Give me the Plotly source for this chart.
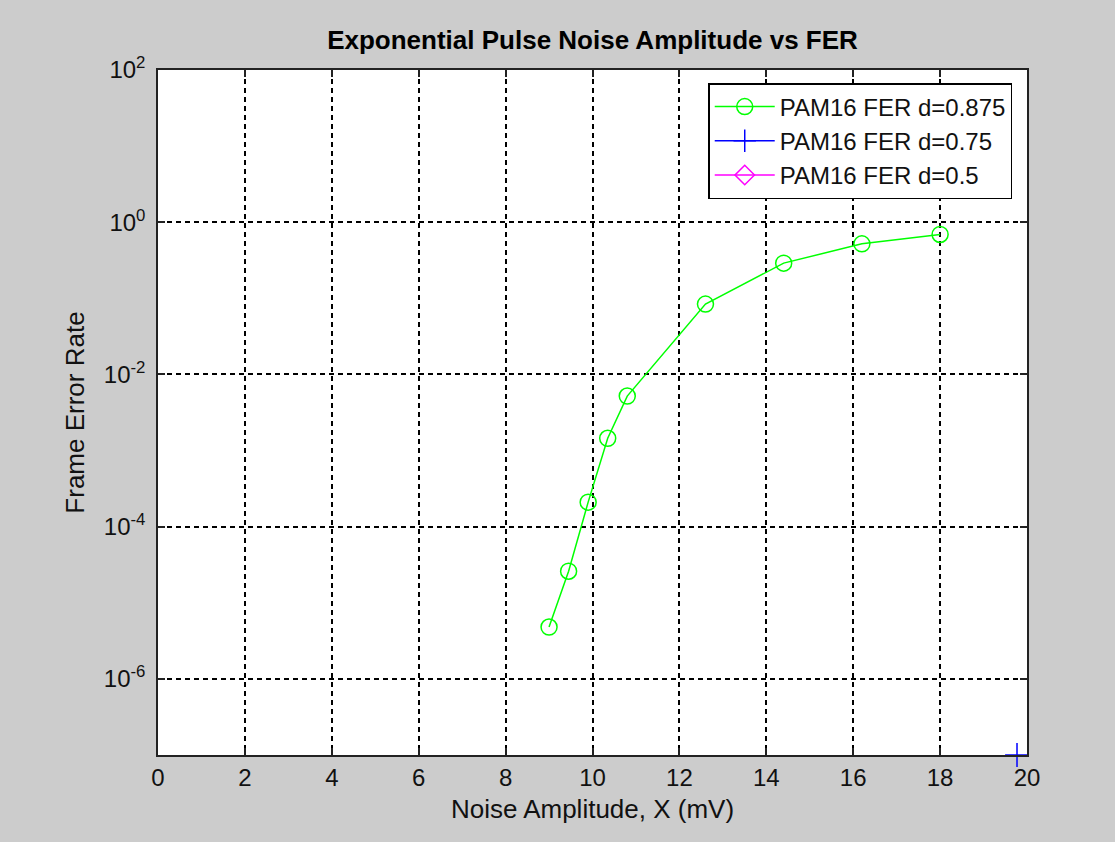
import plotly.graph_objects as go

# Data
noise_amp_875 = [9.0, 9.45, 9.9, 10.35, 10.8, 12.6, 14.4, 16.2, 18.0]
fer_875 = [4.8e-6, 2.6e-5, 2.1e-4, 1.45e-3, 5.2e-3, 0.084, 0.29, 0.52, 0.69]
noise_amp_75 = [19.77]
fer_75 = [1e-7]
noise_amp_5 = [19.77]
fer_5 = [0.0]  # non-positive: not drawable on the log axis

x_ticks = [0, 2, 4, 6, 8, 10, 12, 14, 16, 18, 20]
y_ticks = [1e-6, 1e-4, 1e-2, 1e0, 1e2]
y_tick_text = ["10<sup>-6</sup>", "10<sup>-4</sup>", "10<sup>-2</sup>", "10<sup>0</sup>", "10<sup>2</sup>"]

FONT = "Liberation Sans, Arial, sans-serif"

fig = go.Figure()
fig.add_trace(go.Scatter(
    x=noise_amp_875, y=fer_875, mode="lines+markers", name="PAM16 FER d=0.875",
    line=dict(color="#00ff00", width=1.5),
    marker=dict(symbol="circle-open", size=16, color="#00ff00", line=dict(width=1.5)),
))
fig.add_trace(go.Scatter(
    x=noise_amp_75, y=fer_75, mode="lines+markers", name="PAM16 FER d=0.75",
    line=dict(color="#0000ff", width=1.5),
    marker=dict(symbol="cross-thin-open", size=17, color="#0000ff", line=dict(width=1.5, color="#0000ff")),
    cliponaxis=False,
))
fig.add_trace(go.Scatter(
    x=noise_amp_5, y=fer_5, mode="lines+markers", name="PAM16 FER d=0.5",
    line=dict(color="#ff00ff", width=1.5),
    marker=dict(symbol="diamond-open", size=15, color="#ff00ff", line=dict(width=1.5)),
    showlegend=True,
))

axis_common = dict(
    showline=True, linecolor="#222222", linewidth=1.5, mirror="ticks",
    ticks="inside", ticklen=7, tickcolor="#222222", tickwidth=1.5,
    showgrid=True, gridcolor="black", gridwidth=1.5, griddash="5px,4px",
    zeroline=False, tickfont=dict(family=FONT, size=24, color="#111111"),
)

fig.update_xaxes(
    range=[0, 20], tickvals=x_ticks, ticktext=[str(v) for v in x_ticks],
    title=dict(text="Noise Amplitude, X (mV)", font=dict(family=FONT, size=26, color="#111111"), standoff=10),
    **axis_common,
)
fig.update_yaxes(
    type="log", range=[-7, 2], tickvals=y_ticks, ticktext=y_tick_text,
    ticklabelstandoff=6,
    title=dict(text="Frame Error Rate", font=dict(family=FONT, size=26, color="#111111"), standoff=12),
    **axis_common,
)

fig.update_layout(
    width=1115, height=842,
    paper_bgcolor="#cccccc", plot_bgcolor="white",
    margin=dict(l=158, r=88, t=70, b=87, autoexpand=False),
    title=dict(text="<b>Exponential Pulse Noise Amplitude vs FER</b>", x=0.5, xanchor="center",
               xref="paper", y=0.953, yanchor="middle",
               font=dict(family=FONT, size=26, color="black")),
    legend=dict(x=0.983, y=0.981, xanchor="right", yanchor="top",
                bgcolor="white", bordercolor="black", borderwidth=1.5,
                font=dict(family=FONT, size=24, color="#111111"),
                itemwidth=60, tracegroupgap=0),
    showlegend=True,
)

fig.write_html("out.html", config={"displayModeBar": False},
               post_script="document.body.style.margin='0';document.body.style.padding='0';")
